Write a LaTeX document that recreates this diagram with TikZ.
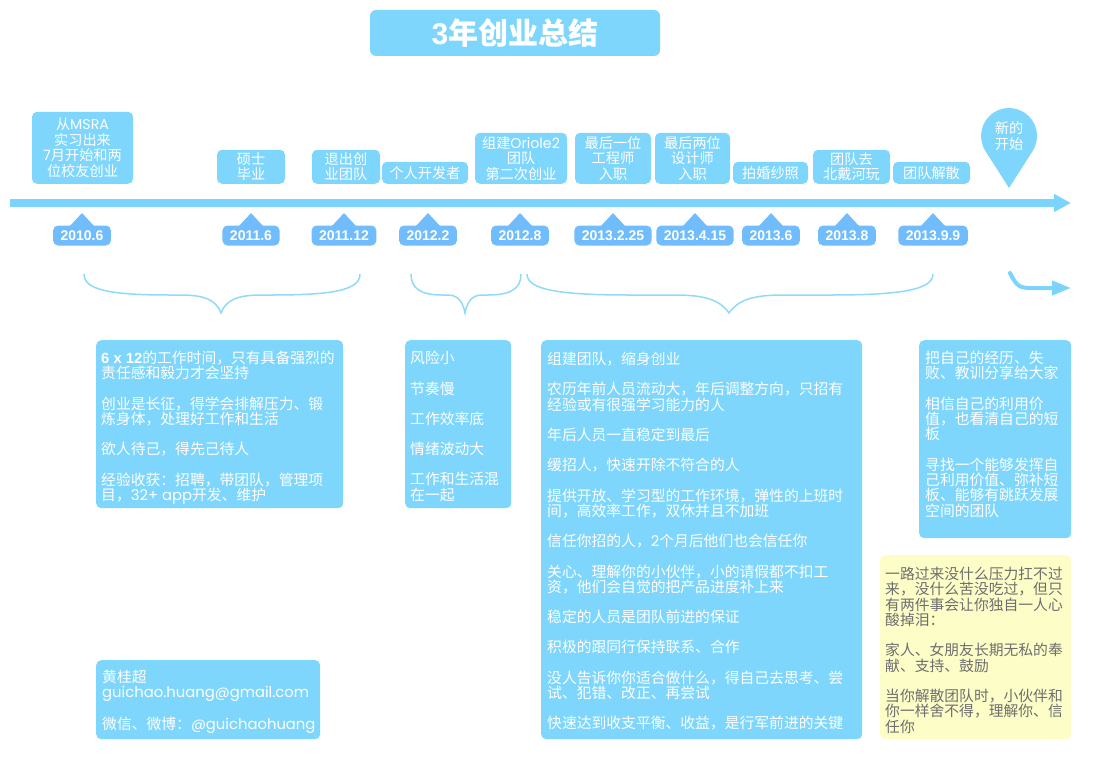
\documentclass[tikz,border=0pt]{standalone}
\usepackage{fontspec}
\setmainfont{Noto Sans CJK SC}
\newfontfamily\latinfont{Poppins}
\newfontfamily\arialfont{Liberation Sans}
\usetikzlibrary{arrows.meta,calc}

\newcommand{\lat}[1]{{\latinfont #1}}

\begin{document}
\begin{tikzpicture}[x=1pt, y=-1pt,
    eventbox/.style={fill=boxColour, rounded corners=5pt, text=white, align=center,
        inner sep=0pt, anchor=south, font=\fontsize{14.2}{15.5}\selectfont},
    datetag/.style={fill=tagColour, rounded corners=5pt, text=white, inner xsep=7.5pt,
        inner ysep=0pt, minimum height=20pt, font=\arialfont\bfseries\fontsize{14}{14}\selectfont},
    panel/.style={fill=boxColour, rounded corners=5pt, anchor=north west, inner sep=0pt},
    paneltext/.style={anchor=north west, align=left, text=white, inner sep=0pt,
        font=\fontsize{14.8}{15.3}\selectfont},
    brace/.style={draw=braceColour, line width=1.5pt}
]
    \definecolor{boxColour}{HTML}{7ED6FD}
    \definecolor{tagColour}{HTML}{71BCFC}
    \definecolor{arrowColour}{HTML}{7AD4FD}
    \definecolor{braceColour}{HTML}{8FDAF9}
    \definecolor{noteColour}{HTML}{FDFDC8}
    \definecolor{noteText}{HTML}{6E6E6E}

    \def\lineY{203}

    % Fix the page
    \useasboundingbox (0,0) rectangle (1107,768);

    % Title
    \node[fill=boxColour, rounded corners=6pt, minimum width=290pt, minimum height=46pt,
        text=white, font=\bfseries\fontsize{30}{32}\selectfont] (title) at (515,33)
        {{\arialfont 3}年创业总结};

    % Draw time line
    \coordinate (lineStart) at (10,\lineY);
    \coordinate (lineEnd) at (1071,\lineY);
    \draw[arrowColour, line width=8pt, -{Triangle[length=17pt,width=17pt]}] (lineStart) -- (lineEnd);

    % Events above the line
    \node[eventbox, minimum width=101pt, minimum height=72pt] (msra) at (82.5,184)
        {从\lat{MSRA}\\实习出来\\\lat{7}月开始和两\\位校友创业};
    \node[eventbox, minimum width=68pt, minimum height=34pt] (master) at (251,184) {硕士\\毕业};
    \node[eventbox, minimum width=68pt, minimum height=34pt] (quit) at (346,184) {退出创\\业团队};
    \node[eventbox, minimum width=86pt, minimum height=22pt] (indie) at (425,184) {个人开发者};
    \node[eventbox, minimum width=92pt, minimum height=51pt] (oriole) at (521,184)
        {组建\lat{Oriole2}\\团队\\第二次创业};
    \node[eventbox, minimum width=76pt, minimum height=51pt] (engineer) at (613,184) {最后一位\\工程师\\入职};
    \node[eventbox, minimum width=75pt, minimum height=51pt] (designer) at (692.5,184) {最后两位\\设计师\\入职};
    \node[eventbox, minimum width=75pt, minimum height=22pt] (wedding) at (770.5,184) {拍婚纱照};
    \node[eventbox, minimum width=77pt, minimum height=34pt] (trip) at (851.5,184) {团队去\\北戴河玩};
    \node[eventbox, minimum width=77pt, minimum height=22pt] (disband) at (931.5,184) {团队解散};

    % Pin for the new start
    \coordinate (pinCentre) at (1009,136);
    \coordinate (pinTip) at (1009,188);
    \fill[boxColour] (pinTip) -- ($(pinCentre)+(147.4:28)$)
        arc[start angle=147.4, end angle=392.6, radius=28] -- cycle;
    \node[text=white, align=center, inner sep=0pt, font=\fontsize{14.2}{15.5}\selectfont]
        (newStart) at (pinCentre) {新的\\开始};

    % Dates below the line
    \foreach \x/\when [count=\i] in {82/2010.6, 251/2011.6, 344/2011.12, 428/2012.2, 520/2012.8,
        613/2013.2.25, 695/2013.4.15, 771/2013.6, 847/2013.8, 933/2013.9.9} {
        \fill[tagColour] (\x-12,226) -- (\x,213) -- (\x+12,226) -- cycle;
        \node[datetag] (tag\i) at (\x,235.5) {\when};
    }

    % Draw braces
    \draw[brace] (84,274) .. controls (84,290) and (110,295) .. (170,295)
        -- (180,295) .. controls (205,295) and (216,300) .. (221,313)
        .. controls (226,300) and (237,295) .. (262,295)
        -- (272,295) .. controls (334,295) and (360,290) .. (360,274);
    \draw[brace] (411,274) .. controls (411,288) and (420,295) .. (442,295)
        -- (448,295) .. controls (458,295) and (463,302) .. (465,313)
        .. controls (467,302) and (472,295) .. (482,295)
        -- (488,295) .. controls (512,295) and (521,288) .. (521,274);
    \draw[brace] (527,274) .. controls (527,290) and (560,295) .. (630,295)
        -- (675,295) .. controls (705,295) and (720,300) .. (729,313)
        .. controls (738,300) and (753,295) .. (783,295)
        -- (830,295) .. controls (900,295) and (933,290) .. (933,274);

    % Small arrow to what comes next
    \coordinate (nextStart) at (1010,273);
    \coordinate (nextEnd) at (1071,288);
    \draw[arrowColour, line width=4pt, line cap=round, -{Triangle[length=19pt,width=14pt]}]
        (nextStart) .. controls (1017,287) and (1020,288) .. (1032,288) -- (nextEnd);

    % Panels
    \node[panel, minimum width=247pt, minimum height=168pt] (panelA) at (96,340) {};
    \node[paneltext] (textA) at (101,351)
        {{\arialfont\bfseries 6 x 12}的工作时间，只有具备强烈的\\责任感和毅力才会坚持\\[15pt]
         创业是长征，得学会排解压力、锻\\炼身体，处理好工作和生活\\[15pt]
         欲人待己，得先己待人\\[15pt]
         经验收获：招聘，带团队，管理项\\目，\lat{32+ app}开发、维护};

    \node[panel, minimum width=106pt, minimum height=168pt] (panelB) at (405,340) {};
    \node[paneltext] (textB) at (410,351)
        {风险小\\[15pt]节奏慢\\[15pt]工作效率底\\[15pt]情绪波动大\\[15pt]工作和生活混\\在一起};

    \node[panel, minimum width=321pt, minimum height=399pt] (panelC) at (541,340) {};
    \node[paneltext] (textC) at (547,352)
        {组建团队，缩身创业\\[15pt]
         农历年前人员流动大，年后调整方向，只招有\\经验或有很强学习能力的人\\[15pt]
         年后人员一直稳定到最后\\[15pt]
         缓招人，快速开除不符合的人\\[15pt]
         提供开放、学习型的工作环境，弹性的上班时\\间，高效率工作，双休并且不加班\\[15pt]
         信任你招的人，\lat{2}个月后他们也会信任你\\[15pt]
         关心、理解你的小伙伴，小的请假都不扣工\\资，他们会自觉的把产品进度补上来\\[15pt]
         稳定的人员是团队前进的保证\\[15pt]
         积极的跟同行保持联系、合作\\[15pt]
         没人告诉你你适合做什么，得自己去思考、尝\\试、犯错、改正、再尝试\\[15pt]
         快速达到收支平衡、收益，是行军前进的关键};

    \node[panel, minimum width=152pt, minimum height=198pt] (panelD) at (919,340) {};
    \node[paneltext] (textD) at (925,351)
        {把自己的经历、失\\败、教训分享给大家\\[15pt]
         相信自己的利用价\\值，也看清自己的短\\板\\[15pt]
         寻找一个能够发挥自\\己利用价值、弥补短\\板、能够有跳跃发展\\空间的团队};

    \node[panel, fill=noteColour, minimum width=191pt, minimum height=184pt] (panelE) at (880,555) {};
    \node[paneltext, text=noteText] (textE) at (885,567)
        {一路过来没什么压力扛不过\\来，没什么苦没吃过，但只\\有两件事会让你独自一人心\\酸掉泪：\\[15pt]
         家人、女朋友长期无私的奉\\献、支持、鼓励\\[15pt]
         当你解散团队时，小伙伴和\\你一样舍不得，理解你、信\\任你};

    \node[panel, minimum width=224pt, minimum height=79pt] (panelF) at (96,660) {};
    \node[paneltext] (textF) at (102,670)
        {黄桂超\\\lat{guichao.huang@gmail.com}\\[14pt]
         微信、微博：\lat{@guichaohuang}};

\end{tikzpicture}
\end{document}
